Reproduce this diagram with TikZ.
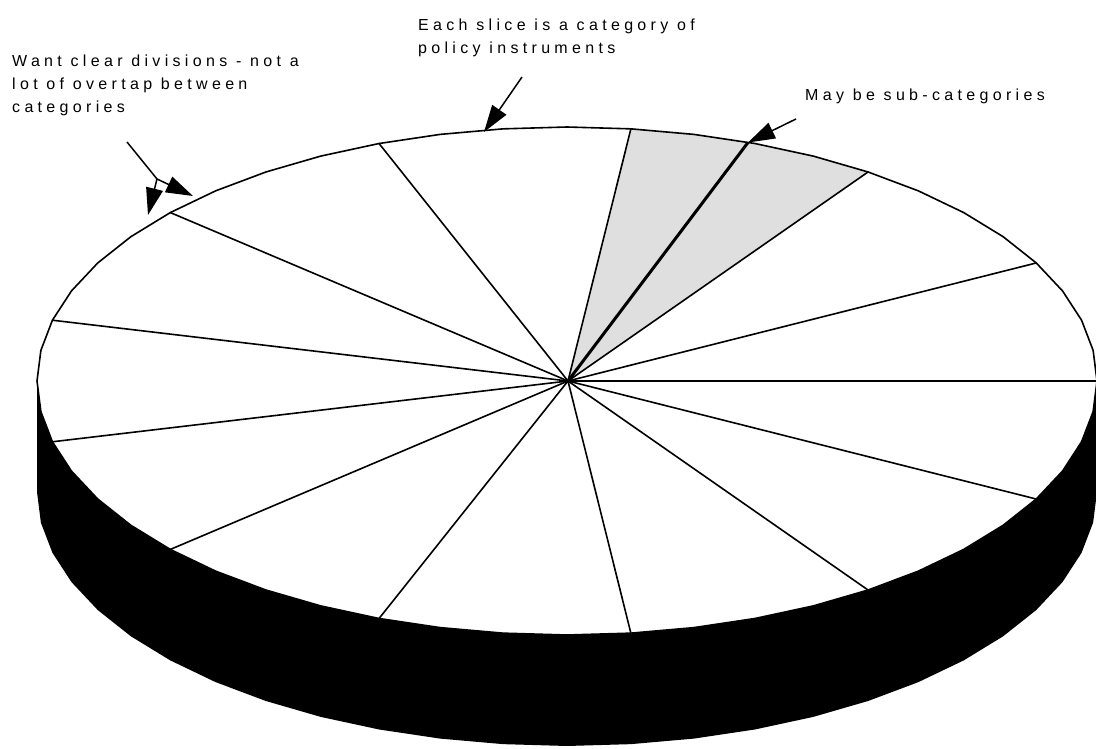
\documentclass[tikz,border=0pt]{standalone}
\usepackage{fontspec}
\newfontfamily\lab[LetterSpace=27]{Liberation Sans}
\usetikzlibrary{arrows.meta}
\definecolor{slicegray}{RGB}{223,223,223}
\tikzset{
  spoke/.style={line width=1.6pt, line cap=round},
  rim/.style={line width=1.6pt, line join=round},
  callout/.style={line width=1.5pt, -{Triangle[length=27pt,width=17pt]}},
  plainline/.style={line width=1.5pt},
  lbl/.style={anchor=base west, inner sep=0pt, font=\lab\fontsize{16}{23}\selectfont}
}
\begin{document}
\begin{tikzpicture}[x=1pt,y=-1pt]
\useasboundingbox (0,0) rectangle (1096,749);
\clip (0,0) rectangle (1096,749);
% vertices of the polygonal ellipse
\foreach \i in {0,...,51}{
  \pgfmathsetmacro{\ang}{6.9230769*\i}
  \coordinate (v\i) at ({567+530*cos(\ang)},{381-254*sin(\ang)});
  \coordinate (w\i) at ({567+530*cos(\ang)},{492-254*sin(\ang)});
}
\coordinate (hub) at (568,381);
\coordinate (sub) at (748,142.5);
% black side
\fill[black] (v26) foreach \i in {27,...,51}{ -- (v\i)} -- (v0) -- (w0)
  foreach \i in {51,50,...,26}{ -- (w\i)} -- cycle;
% top face
\fill[white] (v0) foreach \i in {1,...,51}{ -- (v\i)} -- cycle;
\fill[slicegray] (hub) -- (v8) -- (v9) -- (v10) -- (v11) -- (v12) -- cycle;
% spokes
\foreach \i in {0,4,...,48}{
  \draw[spoke] (hub) -- (v\i);
}
\draw[line width=3pt] (hub) -- (sub);
% rim
\draw[rim] (v0) foreach \i in {1,...,51}{ -- (v\i)} -- cycle;
% callouts
\coordinate (ta) at (127,142);
\coordinate (ja) at (157,179);
\coordinate (ha) at (148,215);
\coordinate (hb) at (193,196);
\draw[plainline] (ta) -- (ja);
\draw[callout] (ja) -- (ha);
\draw[callout] (ja) -- (hb);
\coordinate (tb) at (522,77);
\coordinate (hc) at (484,132);
\draw[callout] (tb) -- (hc);
\coordinate (tc) at (796,119);
\draw[callout] (tc) -- (sub);
% labels
\node[lbl] (w1) at (12,66.7) {Want clear divisions - not a};
\node[lbl] (w2) at (12,89.5) {lot of overtap between};
\node[lbl] (w3) at (12,112.5) {categories};
\node[lbl] (e1) at (418,30.7) {Each slice is a category of};
\node[lbl] (e2) at (418,53.5) {policy instruments};
\node[lbl] (m1) at (805,100.7) {May be sub-categories};
\end{tikzpicture}
\end{document}
